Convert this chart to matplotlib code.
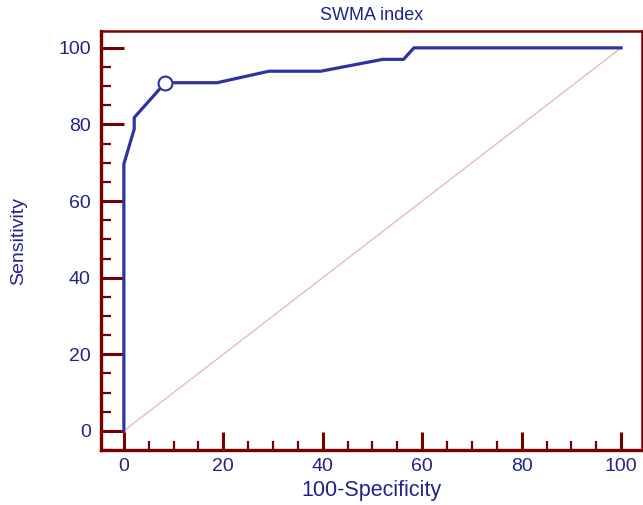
import matplotlib
matplotlib.use("Agg")
import matplotlib.pyplot as plt
from matplotlib.ticker import MultipleLocator

# ROC curve points (100-Specificity, Sensitivity)
fpr = [0, 0, 2.08, 2.08, 8.33, 18.75, 29.17, 39.58, 52.08, 56.25, 58.33, 100]
tpr = [0, 69.7, 78.8, 81.8, 90.9, 90.9, 93.9, 93.9, 97.0, 97.0, 100, 100]

# optimal cut-off point
cut_x = [8.33]
cut_y = [90.9]

ref_x = [0, 100]
ref_y = [0, 100]

blue = "#2e33a0"
text_blue = "#22228c"
dark_red = "#7a0000"

plt.rcParams["font.family"] = ["Liberation Sans", "DejaVu Sans"]

fig = plt.figure(figsize=(6.43, 5.05), dpi=100)
ax = fig.add_axes([0.1563, 0.1089, 0.8421, 0.8297])

ax.plot(ref_x, ref_y, color="#e8b4ae", lw=0.9, zorder=1)
ax.plot(fpr, tpr, color=blue, lw=2.3, solid_joinstyle="round", zorder=2)
ax.plot(cut_x, cut_y, "o", ms=10, mfc="white", mec=blue, mew=1.5, zorder=3)

ax.set_xlim(-4.7, 104.2)
ax.set_ylim(-5.0, 104.4)

ax.xaxis.set_major_locator(MultipleLocator(20))
ax.xaxis.set_minor_locator(MultipleLocator(5))
ax.yaxis.set_major_locator(MultipleLocator(20))
ax.yaxis.set_minor_locator(MultipleLocator(5))

ax.tick_params(axis="x", which="major", direction="in", length=13, width=2.2,
               color=dark_red, labelcolor=text_blue, labelsize=14, pad=6)
ax.tick_params(axis="x", which="minor", direction="in", length=6.5, width=1.6,
               color=dark_red)
ax.tick_params(axis="y", which="major", direction="in", length=16.5, width=2.2,
               color=dark_red, labelcolor=text_blue, labelsize=14, pad=7)
ax.tick_params(axis="y", which="minor", direction="in", length=7.5, width=1.6,
               color=dark_red)

for side in ["left", "bottom"]:
    ax.spines[side].set_color(dark_red)
    ax.spines[side].set_linewidth(2.4)
for side in ["top", "right"]:
    ax.spines[side].set_color(dark_red)
    ax.spines[side].set_linewidth(1.8)

ax.set_title("SWMA index", color=text_blue, fontsize=13, pad=8)
ax.set_xlabel("100-Specificity", color=text_blue, fontsize=15.5, labelpad=3)
ax.set_ylabel("Sensitivity", color=text_blue, fontsize=14, labelpad=22)

fig.savefig("out.png", dpi=100)
